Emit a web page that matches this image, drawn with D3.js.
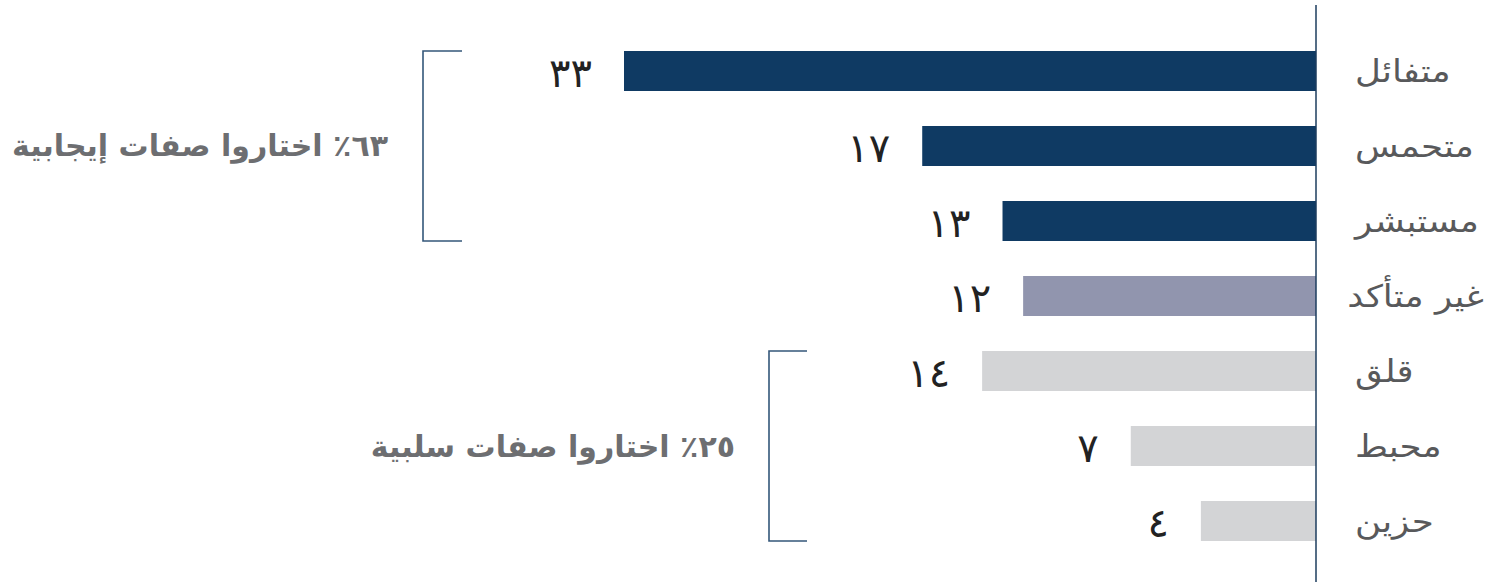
<!DOCTYPE html>
<html><head><meta charset="utf-8">
<script src="https://cdn.jsdelivr.net/npm/d3@7"></script>
<style>html,body{margin:0;padding:0;background:#fff;overflow:hidden}</style>
</head><body>
<svg id="c" width="1495" height="582"></svg>
<script>
const categories = ["متفائل","متحمس","مستبشر","غير متأكد","قلق","محبط","حزين"];
const values = [33,17,13,12,14,7,4];
const valueLabels = ["٣٣","١٧","١٣","١٢","١٤","٧","٤"];
const groups = ["positive","positive","positive","neutral","negative","negative","negative"];
const bracketLabels = [
  {text:"٦٣٪ اختاروا صفات إيجابية", from:"متفائل", to:"مستبشر"},
  {text:"٢٥٪ اختاروا صفات سلبية", from:"قلق", to:"حزين"}
];

const colors = {positive:"#0f3a63", neutral:"#9195ae", negative:"#d3d4d6"};
const svg = d3.select("#c");
const axisX = 1316;
const x = d3.scalePow().exponent(0.85).domain([0, 33]).range([axisX, 624]);
const y = d3.scaleBand().domain(categories).range([33.5, 558.5]).paddingInner(0.4667).paddingOuter(0.2333);
const data = categories.map((c,i)=>({c, v:values[i], l:valueLabels[i], g:groups[i]}));

svg.selectAll("rect.bar").data(data).join("rect")
  .attr("x", d=>x(d.v)).attr("y", d=>y(d.c))
  .attr("width", d=>axisX - x(d.v)).attr("height", y.bandwidth())
  .attr("fill", d=>colors[d.g]);

svg.append("line").attr("x1",axisX).attr("x2",axisX).attr("y1",5).attr("y2",582)
  .attr("stroke","#1d3d5e").attr("stroke-width",1.5);

svg.selectAll("text.val").data(data).join("text")
  .attr("x", d=>x(d.v)-32).attr("y", d=>y(d.c)+y.bandwidth()/2+2)
  .attr("text-anchor","end").attr("dominant-baseline","central")
  .attr("font-family","DejaVu Sans, sans-serif").attr("font-size",40).attr("fill","#222")
  .text(d=>d.l);

const cat = svg.selectAll("text.cat").data(data).join("text")
  .attr("y", d=>y(d.c)+y.bandwidth()/2)
  .attr("dominant-baseline","central")
  .attr("font-family","DejaVu Sans, sans-serif").attr("font-size",31).attr("fill","#58595b")
  .text(d=>d.c);
cat.each(function(){
  const w = this.getComputedTextLength()*1.15;
  d3.select(this).attr("textLength", w).attr("lengthAdjust","spacingAndGlyphs")
    .attr("x", Math.min(1355, 1484 - w));
});

const bx = [{line:423, tick:462, textRight:388},{line:769, tick:807, textRight:735}];
bracketLabels.forEach((b,i)=>{
  const y0 = y(b.from), y1 = y(b.to)+y.bandwidth();
  const p = d3.path();
  p.moveTo(bx[i].tick, y0); p.lineTo(bx[i].line, y0); p.lineTo(bx[i].line, y1); p.lineTo(bx[i].tick, y1);
  svg.append("path").attr("d", p.toString()).attr("fill","none").attr("stroke","#34577a").attr("stroke-width",1.6);
  svg.append("text").attr("x", bx[i].textRight).attr("y",(y0+y1)/2)
    .attr("text-anchor","end").attr("dominant-baseline","central")
    .attr("font-family","DejaVu Sans, sans-serif").attr("font-weight","bold")
    .attr("font-size",30).attr("fill","#6d6e71").text(b.text);
});
</script>
</body></html>
